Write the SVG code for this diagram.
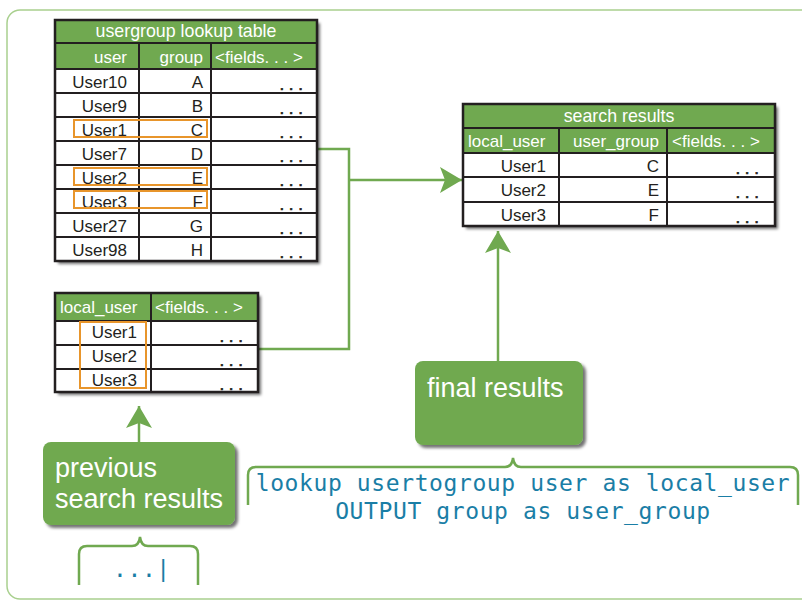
<svg xmlns="http://www.w3.org/2000/svg" width="802" height="602" viewBox="0 0 802 602">
  <defs>
    <filter id="shadow" x="-10%" y="-10%" width="130%" height="130%">
      <feDropShadow dx="3" dy="3" stdDeviation="1.6" flood-color="#000" flood-opacity="0.55"/>
    </filter>
    <marker id="arrow" viewBox="0 0 24 26" refX="22" refY="13" markerWidth="24" markerHeight="26" markerUnits="userSpaceOnUse" orient="auto">
      <path d="M0,0 L22,13 L0,26 L5,13 Z" fill="#70a950"/>
    </marker>
  </defs>
  <style>
    .frame { fill: none; stroke: #a9d08f; stroke-width: 1.5; }
    .grid { stroke: #231f20; stroke-width: 2; fill: none; }
    .outline { stroke: #231f20; stroke-width: 2.5; fill: none; }
    .head { fill: #70a950; }
    .body { fill: #ffffff; }
    .t { font-family: "Liberation Sans", Arial, sans-serif; font-size: 17px; fill: #231f20; }
    .th { font-family: "Liberation Sans", Arial, sans-serif; font-size: 17px; fill: #ffffff; }
    .title { font-size: 17.8px; }
    .dots { stroke: #231f20; stroke-width: 0.6px; }
    .r { text-anchor: end; }
    .c { text-anchor: middle; }
    .hl { fill: none; stroke: #e8952b; stroke-width: 2; }
    .conn { fill: none; stroke: #70a950; stroke-width: 2.5; }
    .brace { fill: none; stroke: #70a950; stroke-width: 2.5; }
    .box { fill: #70a950; }
    .label { font-family: "Liberation Sans", Arial, sans-serif; font-size: 27px; fill: #ffffff; }
    .code { font-family: "DejaVu Sans Mono", monospace; font-size: 23px; fill: #1a7ea6; letter-spacing: 0.6px; }
  </style>

  <!-- outer frame -->
  <rect class="frame" x="7" y="10" width="820" height="589" rx="13"/>

  <!-- connectors -->
  <g id="connectors">
    <path class="conn" d="M317,149 H349 V349 H258"/>
    <path class="conn" d="M349,180 H462" marker-end="url(#arrow)"/>
    <path class="conn" d="M498,372 V231" marker-end="url(#arrow)"/>
    <path class="conn" d="M139,453 V406" marker-end="url(#arrow)"/>
  </g>

  <!-- usergroup lookup table -->
  <g id="lookup-table">
    <g filter="url(#shadow)">
      <rect class="body" x="55" y="20" width="262" height="241"/>
    </g>
    <rect class="head" x="55" y="20" width="262" height="49"/>
    <g class="grid">
      <path d="M55,43 H317 M55,69 H317 M55,93 H317 M55,117 H317 M55,141 H317 M55,165 H317 M55,189 H317 M55,213 H317 M55,237 H317"/>
      <path d="M139,43 V261 M211,43 V261"/>
    </g>
    <rect class="outline" x="55" y="20" width="262" height="241"/>
    <text class="th title c" x="186" y="37">usergroup lookup table</text>
    <text class="th r" x="127" y="63">user</text>
    <text class="th r" x="203" y="63">group</text>
    <text class="th" x="215" y="63">&lt;fields. . . &gt;</text>
    <g>
      <text class="t r" x="127" y="88">User10</text><text class="t r" x="203" y="88">A</text><text class="t dots r" x="303" y="90">. . .</text>
      <text class="t r" x="127" y="112">User9</text><text class="t r" x="203" y="112">B</text><text class="t dots r" x="303" y="114">. . .</text>
      <text class="t r" x="127" y="136">User1</text><text class="t r" x="203" y="136">C</text><text class="t dots r" x="303" y="138">. . .</text>
      <text class="t r" x="127" y="160">User7</text><text class="t r" x="203" y="160">D</text><text class="t dots r" x="303" y="162">. . .</text>
      <text class="t r" x="127" y="184">User2</text><text class="t r" x="203" y="184">E</text><text class="t dots r" x="303" y="186">. . .</text>
      <text class="t r" x="127" y="208">User3</text><text class="t r" x="203" y="208">F</text><text class="t dots r" x="303" y="210">. . .</text>
      <text class="t r" x="127" y="232">User27</text><text class="t r" x="203" y="232">G</text><text class="t dots r" x="303" y="234">. . .</text>
      <text class="t r" x="127" y="256">User98</text><text class="t r" x="203" y="256">H</text><text class="t dots r" x="303" y="258">. . .</text>
    </g>
    <rect class="hl" x="74" y="120" width="133" height="17"/>
    <rect class="hl" x="74" y="168" width="133" height="17"/>
    <rect class="hl" x="74" y="191" width="133" height="17"/>
  </g>

  <!-- search results table -->
  <g id="search-results">
    <g filter="url(#shadow)">
      <rect class="body" x="463" y="104" width="312" height="122"/>
    </g>
    <rect class="head" x="463" y="104" width="312" height="49"/>
    <g class="grid">
      <path d="M463,128 H775 M463,153 H775 M463,177 H775 M463,202 H775"/>
      <path d="M559,128 V226 M667,128 V226"/>
    </g>
    <rect class="outline" x="463" y="104" width="312" height="122"/>
    <text class="th title c" x="619" y="122">search results</text>
    <text class="th" x="468" y="147">local_user</text>
    <text class="th r" x="659" y="147">user_group</text>
    <text class="th" x="672" y="147">&lt;fields. . . &gt;</text>
    <text class="t r" x="546" y="172">User1</text><text class="t r" x="659" y="172">C</text><text class="t dots r" x="759" y="174">. . .</text>
    <text class="t r" x="546" y="196">User2</text><text class="t r" x="659" y="196">E</text><text class="t dots r" x="759" y="198">. . .</text>
    <text class="t r" x="546" y="221">User3</text><text class="t r" x="659" y="221">F</text><text class="t dots r" x="759" y="223">. . .</text>
  </g>

  <!-- incoming local_user table -->
  <g id="local-table">
    <g filter="url(#shadow)">
      <rect class="body" x="55" y="293" width="203" height="99"/>
    </g>
    <rect class="head" x="55" y="293" width="203" height="28"/>
    <g class="grid">
      <path d="M55,321 H258 M55,345 H258 M55,369 H258"/>
      <path d="M151,293 V392"/>
    </g>
    <rect class="outline" x="55" y="293" width="203" height="99"/>
    <text class="th" x="60" y="313">local_user</text>
    <text class="th" x="155" y="313">&lt;fields. . . &gt;</text>
    <text class="t r" x="137" y="338">User1</text><text class="t dots r" x="243" y="342">. . .</text>
    <text class="t r" x="137" y="362">User2</text><text class="t dots r" x="243" y="366">. . .</text>
    <text class="t r" x="137" y="386">User3</text><text class="t dots r" x="243" y="390">. . .</text>
    <rect class="hl" x="80" y="322" width="66" height="66"/>
  </g>

  <!-- final results label -->
  <g id="final-results">
    <rect class="box" x="415" y="361" width="168" height="84" rx="8" filter="url(#shadow)"/>
    <text class="label" x="427" y="397">final results</text>
  </g>

  <!-- previous search results label -->
  <g id="previous-results">
    <rect class="box" x="43" y="442" width="192" height="83" rx="8" filter="url(#shadow)"/>
    <text class="label" x="55" y="477">previous</text>
    <text class="label" x="55" y="508">search results</text>
  </g>

  <!-- lookup command -->
  <g id="lookup-command">
    <path class="brace" d="M248,505 V475 Q248,467 256,467 H505 Q512,467 513,458 Q514,467 521,467 H790 Q798,467 798,475 V505"/>
    <text class="code c" x="523" y="491">lookup usertogroup user as local_user</text>
    <text class="code c" x="523" y="519">OUTPUT group as user_group</text>
  </g>

  <!-- preceding pipeline -->
  <g id="pipeline">
    <path class="brace" d="M79,585 V554 Q79,546 87,546 H132 Q139,546 140,537 Q141,546 148,546 H190 Q198,546 198,554 V585"/>
    <text class="code" x="113" y="577">...|</text>
  </g>
</svg>
